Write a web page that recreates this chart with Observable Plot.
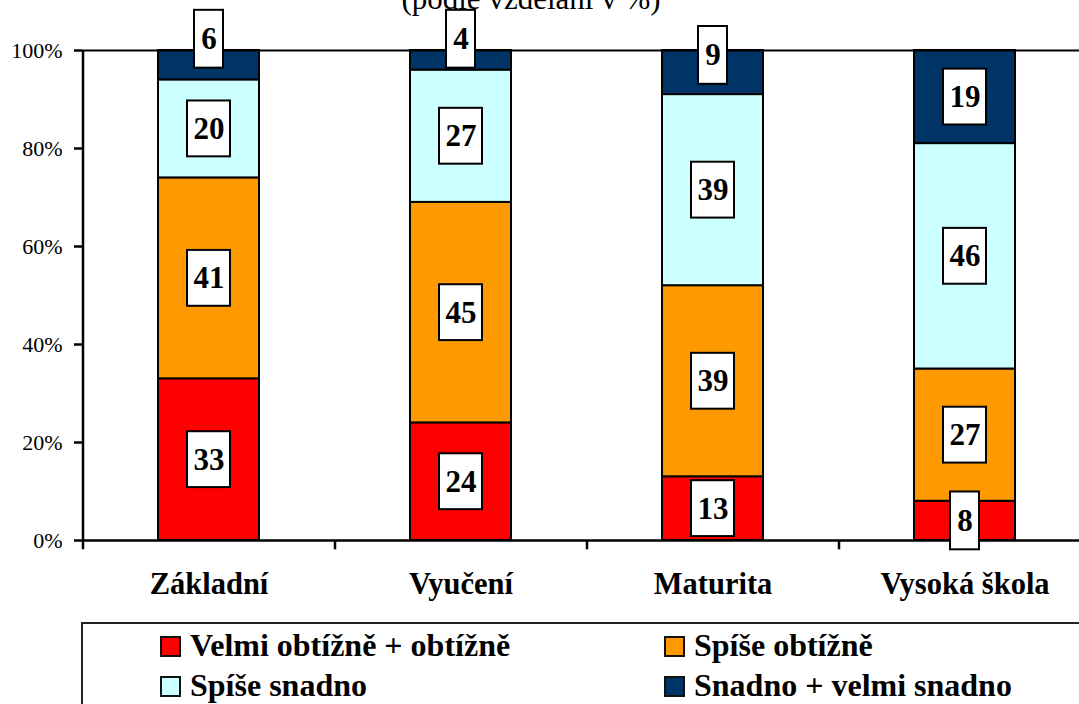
<!DOCTYPE html>
<html>
<head>
<meta charset="utf-8">
<script src="https://cdn.jsdelivr.net/npm/d3@7"></script>
<script src="https://cdn.jsdelivr.net/npm/@observablehq/plot@0.6"></script>
<style>
  html, body { margin: 0; padding: 0; background: #fff; overflow: hidden; }
  #wrap { position: relative; width: 1079px; height: 704px; overflow: hidden; font-family: "Liberation Serif", "Times New Roman", serif; }
  #chart { position: absolute; left: 0; top: 0; width: 1090px; }
  #chart svg { max-width: none !important; }
  #title { position: absolute; left: 0; width: 1062px; top: -17px; text-align: center; font-size: 31px; line-height: 31px; white-space: nowrap; }
  #legend { position: absolute; left: 81px; top: 622px; width: 1100px; height: 120px; border: 2px solid #222; box-sizing: border-box; }
  .item { position: absolute; white-space: nowrap; font-weight: bold; font-size: 32px; line-height: 32px; }
  .sw { position: absolute; width: 21px; height: 21px; box-sizing: border-box; border: 2px solid #111; }
</style>
</head>
<body>
<div id="wrap">
  <div id="chart"></div>
  <div id="title">(podle vzdělání v %)</div>
  <div id="legend"></div>
</div>
<script>
// ---- data ----
const categories = ["Základní", "Vyučení", "Maturita", "Vysoká škola"];
const seriesNames = ["Velmi obtížně + obtížně", "Spíše obtížně", "Spíše snadno", "Snadno + velmi snadno"];
const velmiObtizne = [33, 24, 13, 8];
const spiseObtizne = [41, 45, 39, 27];
const spiseSnadno = [20, 27, 39, 46];
const snadno = [6, 4, 9, 19];
const seriesColors = ["#FF0000", "#FF9900", "#CCFFFF", "#003366"];
const yTicks = [0, 20, 40, 60, 80, 100];

// ---- table ----
const seriesValues = [velmiObtizne, spiseObtizne, spiseSnadno, snadno];
const rows = [];
categories.forEach((cat, i) => {
  let acc = 0;
  seriesValues.forEach((vals, s) => {
    const v = vals[i];
    const y1 = acc, y2 = acc + v;
    acc = y2;
    const mid = (y1 + y2) / 2;
    const isTop = s === seriesValues.length - 1;
    // small top segments: label pushed upward like the source chart
    const ly = (isTop && v < 10) ? Math.min(mid + 3.5 + (9 - v), 102.3) : mid;
    rows.push({cat, series: seriesNames[s], value: v, y1, y2, ly});
  });
});

const W = 1090, H = 612;
const mL = 82, mR = 0, mT = 50, mB = H - 540;
const band = (W - mL - mR) / categories.length;
const boxH = 11.4;

const plot = Plot.plot({
  width: W,
  height: H,
  marginLeft: mL,
  marginRight: mR,
  marginTop: mT,
  marginBottom: mB,
  style: {fontFamily: "'Liberation Serif', 'Times New Roman', serif", color: "#000", background: "transparent", overflow: "visible", maxWidth: "none"},
  x: {domain: categories, paddingInner: 0.6, paddingOuter: 0.3, axis: null},
  y: {domain: [0, 100], axis: null},
  color: {domain: seriesNames, range: seriesColors},
  marks: [
    Plot.barY(rows, {x: "cat", y1: "y1", y2: "y2", fill: "series", stroke: "#000", strokeWidth: 2}),
    Plot.ruleY([100], {stroke: "#000", strokeWidth: 2}),
    Plot.ruleY([0], {stroke: "#000", strokeWidth: 2.5}),
    Plot.ruleX([0], {x: () => categories[0], dx: -band / 2, y1: -1.9, y2: 100, stroke: "#000", strokeWidth: 2.5}),
    Plot.ruleX(categories.slice(1), {x: d => d, dx: -band / 2, y1: 0, y2: -1.9, stroke: "#000", strokeWidth: 2.5}),
    Plot.axisY({ticks: yTicks, tickFormat: d => d + "%", tickSize: 8, tickPadding: 12, fontSize: 22, strokeWidth: 2.5, label: null}),
    Plot.axisX({tickSize: 0, tickPadding: 32, fontSize: 30.5, fontWeight: "bold", label: null}),
    // label boxes
    Plot.barY(rows.filter(d => d.value >= 10), {x: "cat", y1: d => d.ly - boxH / 2, y2: d => d.ly + boxH / 2, fill: "#fff", stroke: "#000", strokeWidth: 2, insetLeft: 29, insetRight: 29}),
    Plot.barY(rows.filter(d => d.value < 10), {x: "cat", y1: d => d.ly - boxH / 2 - 0.2, y2: d => d.ly + boxH / 2 + 0.2, fill: "#fff", stroke: "#000", strokeWidth: 2, insetLeft: 36, insetRight: 36}),
    Plot.text(rows, {x: "cat", y: "ly", text: d => String(d.value), fontSize: 31, fontWeight: "bold", fill: "#000", lineAnchor: "middle"})
  ]
});
document.getElementById("chart").appendChild(plot);

// ---- legend ----
const legend = document.getElementById("legend");
const legendPos = [
  {x: 160, y: 636},
  {x: 664, y: 636},
  {x: 160, y: 675.5},
  {x: 664, y: 675.5}
];
// order in the source legend: row1: s0, s1; row2: s2, s3
seriesNames.forEach((name, i) => {
  const p = legendPos[i];
  const sw = document.createElement("div");
  sw.className = "sw";
  sw.style.left = (p.x - 81 - 2) + "px";
  sw.style.top = (p.y - 622 - 2) + "px";
  sw.style.background = seriesColors[i];
  legend.appendChild(sw);
  const t = document.createElement("div");
  t.className = "item";
  t.textContent = name;
  t.style.left = (p.x + 30 - 81 - 2) + "px";
  t.style.top = (p.y + 20 - 27 - 622 - 2) + "px";
  legend.appendChild(t);
});
</script>
</body>
</html>
